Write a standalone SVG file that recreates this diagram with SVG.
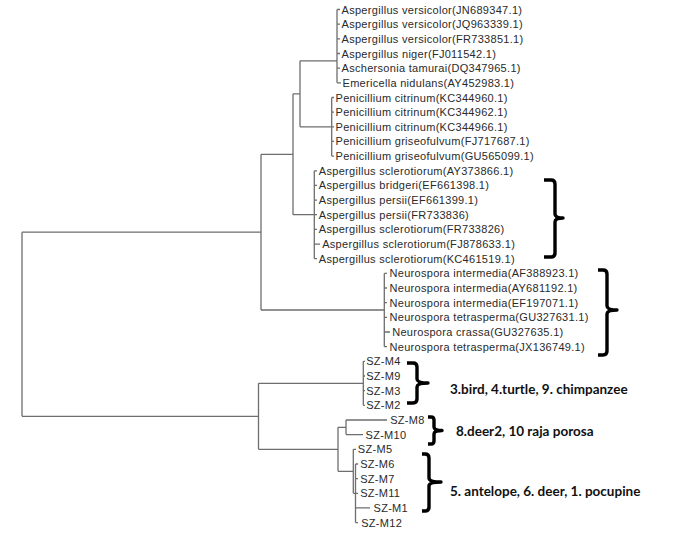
<svg xmlns="http://www.w3.org/2000/svg" width="677" height="541" viewBox="0 0 677 541">
<style>
.leaf{font-family:"Liberation Sans",Arial,sans-serif;font-size:11px;letter-spacing:0.3px;fill:#2a2a2a}
.ann{font-family:Lato,"Open Sans",sans-serif;font-weight:bold;font-size:13.5px;fill:#111}
.br{fill:none;stroke:#000;stroke-width:3.4;stroke-linejoin:round;stroke-linecap:butt}
#connectors path{fill:none;stroke:#6e6e6e;stroke-width:1.3}
</style>
<rect width="677" height="541" fill="#fff"/>
<g id="connectors">
<path d="M22,232.2V416.3M22,232.2H261M22,416.3H258.5"/>
<path d="M261,154.3V310M261,154.3H293M261,310H384.3"/>
<path d="M293,93.8V214.7M293,93.8H300M293,214.7H314.3"/>
<path d="M300,60.8V126.8M300,60.8H337M300,126.8H331.7"/>
<path d="M337,9.5V82.8M337,9.5H340M337,24.2H340M337,38.8H340M337,53.5H340M337,68.1H340M337,82.8H341"/>
<path d="M331.7,97.5V156.1M331.7,97.5H334M331.7,112.1H334M331.7,126.8H334M331.7,141.4H334M331.7,156.1H334"/>
<path d="M314.3,170.8V258.7M314.3,170.8H317M314.3,185.4H317M314.3,200.1H317M314.3,214.7H317M314.3,229.4H317M314.3,244.1H320M314.3,258.7H317"/>
<path d="M384.3,273.4V346.7M384.3,273.4H387M384.3,288H387M384.3,302.7H387M384.3,317.4H387M384.3,332H390M384.3,346.7H387"/>
<path d="M258.5,383.3V449.3M258.5,383.3H363.3M258.5,449.3H338"/>
<path d="M363.3,361.3V405.3M363.3,361.3H365M363.3,376H365M363.3,390.7H365M363.3,405.3H365"/>
<path d="M338,427.3V471.3M338,427.3H346M338,471.3H353.3"/>
<path d="M346,420V434.6M346,420H387M346,434.6H363"/>
<path d="M353.3,449.3V493.3M353.3,449.3H356M353.3,493.3H355.5"/>
<path d="M355.5,464V522.6M355.5,464H358M355.5,478.6H358M355.5,493.3H358M355.5,507.9H370M355.5,522.6H358"/>
</g>
<g id="leaf-JN689347"><text class="leaf" x="341.5" y="13.5">Aspergillus versicolor(JN689347.1)</text></g>
<g id="leaf-JQ963339"><text class="leaf" x="341.5" y="28.2">Aspergillus versicolor(JQ963339.1)</text></g>
<g id="leaf-FR733851"><text class="leaf" x="341.5" y="42.8">Aspergillus versicolor(FR733851.1)</text></g>
<g id="leaf-FJ011542"><text class="leaf" x="341.5" y="57.5">Aspergillus niger(FJ011542.1)</text></g>
<g id="leaf-DQ347965"><text class="leaf" x="341.5" y="72.1">Aschersonia tamurai(DQ347965.1)</text></g>
<g id="leaf-AY452983"><text class="leaf" x="342.5" y="86.8">Emericella nidulans(AY452983.1)</text></g>
<g id="leaf-KC344960"><text class="leaf" x="335.5" y="101.5">Penicillium citrinum(KC344960.1)</text></g>
<g id="leaf-KC344962"><text class="leaf" x="335.5" y="116.1">Penicillium citrinum(KC344962.1)</text></g>
<g id="leaf-KC344966"><text class="leaf" x="335.5" y="130.8">Penicillium citrinum(KC344966.1)</text></g>
<g id="leaf-FJ717687"><text class="leaf" x="335.5" y="145.4">Penicillium griseofulvum(FJ717687.1)</text></g>
<g id="leaf-GU565099"><text class="leaf" x="335.5" y="160.1">Penicillium griseofulvum(GU565099.1)</text></g>
<g id="leaf-AY373866"><text class="leaf" x="318.8" y="174.8">Aspergillus sclerotiorum(AY373866.1)</text></g>
<g id="leaf-EF661398"><text class="leaf" x="318.8" y="189.4">Aspergillus bridgeri(EF661398.1)</text></g>
<g id="leaf-EF661399"><text class="leaf" x="318.8" y="204.1">Aspergillus persii(EF661399.1)</text></g>
<g id="leaf-FR733836"><text class="leaf" x="318.8" y="218.7">Aspergillus persii(FR733836)</text></g>
<g id="leaf-FR733826"><text class="leaf" x="318.8" y="233.4">Aspergillus sclerotiorum(FR733826)</text></g>
<g id="leaf-FJ878633"><text class="leaf" x="322.2" y="248.1">Aspergillus sclerotiorum(FJ878633.1)</text></g>
<g id="leaf-KC461519"><text class="leaf" x="318.8" y="262.7">Aspergillus sclerotiorum(KC461519.1)</text></g>
<g id="leaf-AF388923"><text class="leaf" x="389.5" y="277.4">Neurospora intermedia(AF388923.1)</text></g>
<g id="leaf-AY681192"><text class="leaf" x="389.5" y="292">Neurospora intermedia(AY681192.1)</text></g>
<g id="leaf-EF197071"><text class="leaf" x="389.5" y="306.7">Neurospora intermedia(EF197071.1)</text></g>
<g id="leaf-GU327631"><text class="leaf" x="389.5" y="321.4">Neurospora tetrasperma(GU327631.1)</text></g>
<g id="leaf-GU327635"><text class="leaf" x="392.2" y="336">Neurospora crassa(GU327635.1)</text></g>
<g id="leaf-JX136749"><text class="leaf" x="389.5" y="350.7">Neurospora tetrasperma(JX136749.1)</text></g>
<g id="leaf-SZ-M4"><text class="leaf" x="366.2" y="365.3">SZ-M4</text></g>
<g id="leaf-SZ-M9"><text class="leaf" x="366.2" y="380">SZ-M9</text></g>
<g id="leaf-SZ-M3"><text class="leaf" x="366.2" y="394.7">SZ-M3</text></g>
<g id="leaf-SZ-M2"><text class="leaf" x="366.2" y="409.3">SZ-M2</text></g>
<g id="leaf-SZ-M8"><text class="leaf" x="390.2" y="424">SZ-M8</text></g>
<g id="leaf-SZ-M10"><text class="leaf" x="365.5" y="438.6">SZ-M10</text></g>
<g id="leaf-SZ-M5"><text class="leaf" x="357.8" y="453.3">SZ-M5</text></g>
<g id="leaf-SZ-M6"><text class="leaf" x="360.2" y="468">SZ-M6</text></g>
<g id="leaf-SZ-M7"><text class="leaf" x="360.2" y="482.6">SZ-M7</text></g>
<g id="leaf-SZ-M11"><text class="leaf" x="360.2" y="497.3">SZ-M11</text></g>
<g id="leaf-SZ-M1"><text class="leaf" x="373.5" y="511.9">SZ-M1</text></g>
<g id="leaf-SZ-M12"><text class="leaf" x="361.2" y="526.6">SZ-M12</text></g>
<g id="brace-sclerotiorum"><path class="br" d="M544,180H551Q555,180 555,184V214Q555,218 563,218Q555,218 555,222V253Q555,257 551,257H544"/></g>
<g id="brace-neurospora"><path class="br" d="M598,270H603Q607,270 607,274V306Q607,310 617,310Q607,310 607,314V351Q607,355 603,355H598"/></g>
<g id="brace-group1"><path class="br" d="M407,363H413Q417,363 417,367V379Q417,383 428,383Q417,383 417,387V399Q417,403 413,403H407"/></g>
<g id="brace-group2"><path class="br" d="M428,417H431Q434,417 434,420V427Q434,430.5 442,430.5Q434,430.5 434,434V441Q434,444 431,444H428"/></g>
<g id="brace-group3"><path class="br" d="M422,454H425Q429,454 429,458V478Q429,482 441,482Q429,482 429,486V507Q429,511 425,511H422"/></g>
<g id="label-group1"><text class="ann" x="450" y="394">3.bird, 4.turtle, 9. chimpanzee</text></g>
<g id="label-group2"><text class="ann" x="456" y="435.5">8.deer2, 10 raja porosa</text></g>
<g id="label-group3"><text class="ann" x="450" y="496">5. antelope, 6. deer, 1. pocupine</text></g>
</svg>
